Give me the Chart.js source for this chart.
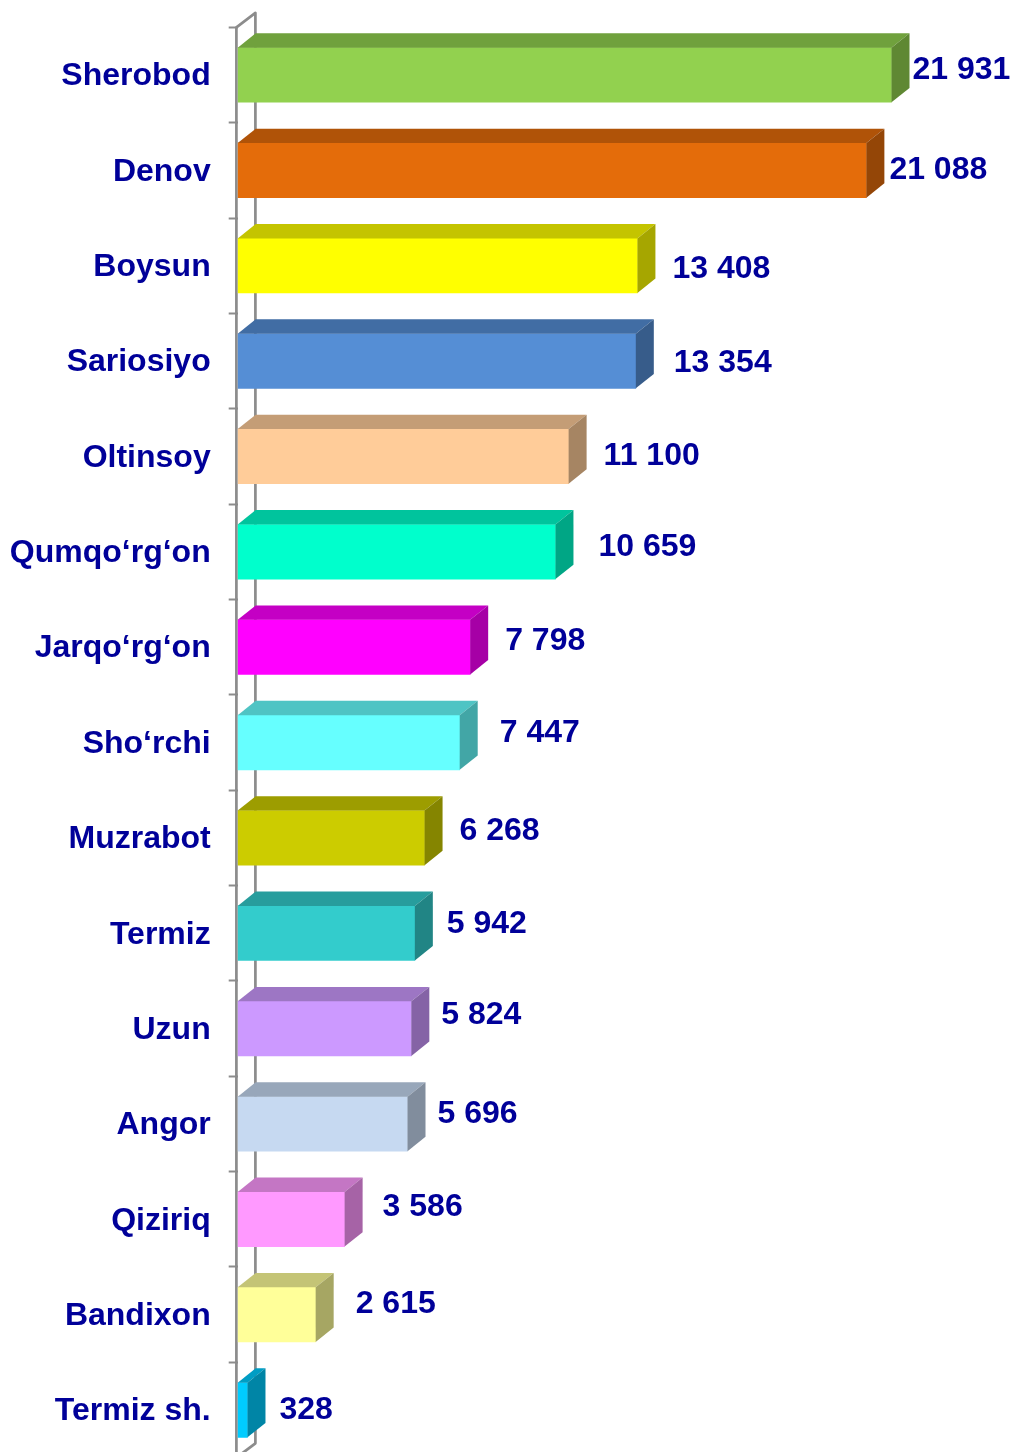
<!DOCTYPE html>
<html lang="uz">
  <head>
    <meta charset="utf-8" />
    <title>Tumanlar</title>
    <script src="https://cdn.jsdelivr.net/npm/chart.js"></script>
    <style>
      html,
      body {
        margin: 0;
        padding: 0;
        background: #fff;
        height: 1452px;
        overflow: hidden;
      }
      canvas {
        display: block;
      }
    </style>
  </head>
  <body>
    <canvas id="chart" width="1010" height="1480"></canvas>
    <script>
      const categories = [
        "Sherobod", "Denov", "Boysun", "Sariosiyo", "Oltinsoy",
        "Qumqo\u2018rg\u2018on", "Jarqo\u2018rg\u2018on", "Sho\u2018rchi", "Muzrabot", "Termiz",
        "Uzun", "Angor", "Qiziriq", "Bandixon", "Termiz sh.",
      ];
      const values = [
        21931, 21088, 13408, 13354, 11100, 10659, 7798, 7447, 6268, 5942, 5824,
        5696, 3586, 2615, 328,
      ];
      const barColors = [
        "#92D14F", "#E46C0A", "#FFFF00", "#558ED5", "#FFCC99",
        "#00FFCC", "#FF00FF", "#66FFFF", "#CCCC00", "#33CCCC",
        "#CC99FF", "#C6D9F1", "#FF99FF", "#FFFF99", "#00CCFF",
      ];
      // value labels were hand-placed in the original, so each has its own nudge
      const labelGapX = [21, 23, 35, 38, 35, 43, 35, 40, 35, 32, 30, 30, 38, 40, 32];
      const labelGapY = [-5, 0, 3, 2, 0, -5, -6, -9, -7, -9, -13, -10, -12, -10, 0];

      const depthX = 18;
      const depthY = 14.4;
      const axisColor = "#8C8C8C";
      const textColor = "#000099";
      const font = { family: "'Liberation Sans', Arial, sans-serif", size: 32, weight: "bold" };

      function shade(hex, k) {
        const n = parseInt(hex.slice(1), 16);
        const c = [n >> 16, (n >> 8) & 255, n & 255].map((v) => Math.round(v * k));
        return "rgb(" + c.join(",") + ")";
      }

      function fmt(v) {
        return String(v).replace(/\B(?=(\d{3})+$)/g, " ");
      }

      // 3D frame: front axis line and back wall
      const wallPlugin = {
        id: "wall",
        beforeDatasetsDraw(chart) {
          const { ctx, chartArea: a } = chart;
          const x = a.left - 1.3;
          ctx.save();
          ctx.strokeStyle = axisColor;
          ctx.lineWidth = 2.7;
          ctx.lineJoin = "round";
          ctx.beginPath();
          ctx.moveTo(x, a.bottom);
          ctx.lineTo(x, a.top);
          ctx.lineTo(x + depthX + 1, a.top - depthY);
          ctx.lineTo(x + depthX + 1, a.bottom - depthY);
          ctx.lineTo(x, a.bottom);
          ctx.stroke();
          ctx.restore();
        },
      };

      // top and side faces of each bar, plus the value labels
      const facesPlugin = {
        id: "faces",
        afterDatasetsDraw(chart) {
          const { ctx } = chart;
          chart.getDatasetMeta(0).data.forEach((bar, i) => {
            const x0 = bar.base;
            const x1 = bar.x;
            const top = bar.y - bar.height / 2;
            const bottom = bar.y + bar.height / 2;
            ctx.fillStyle = shade(barColors[i], 0.77);
            ctx.beginPath();
            ctx.moveTo(x0, top);
            ctx.lineTo(x0 + depthX, top - depthY);
            ctx.lineTo(x1 + depthX, top - depthY);
            ctx.lineTo(x1, top);
            ctx.closePath();
            ctx.fill();
            ctx.fillStyle = shade(barColors[i], 0.65);
            ctx.beginPath();
            ctx.moveTo(x1, top);
            ctx.lineTo(x1 + depthX, top - depthY);
            ctx.lineTo(x1 + depthX, bottom - depthY);
            ctx.lineTo(x1, bottom);
            ctx.closePath();
            ctx.fill();

            ctx.fillStyle = textColor;
            ctx.font = font.weight + " " + font.size + "px " + font.family;
            ctx.textAlign = "left";
            ctx.textBaseline = "middle";
            ctx.fillText(fmt(values[i]), x1 + labelGapX[i], bar.y + labelGapY[i]);
          });
        },
      };

      new Chart(document.getElementById("chart"), {
        type: "bar",
        data: {
          labels: categories,
          datasets: [
            {
              data: values,
              backgroundColor: barColors,
              borderWidth: 0,
              barThickness: 54.6,
            },
          ],
        },
        options: {
          indexAxis: "y",
          responsive: false,
          animation: false,
          devicePixelRatio: 1,
          layout: { padding: { top: 27.3, bottom: 22.3, right: 27 } },
          plugins: { legend: { display: false }, tooltip: { enabled: false } },
          scales: {
            x: { display: false, min: 0, max: 25000 },
            y: {
              afterFit(scale) {
                scale.width = 237.7;
                scale.paddingTop = 0;
                scale.paddingBottom = 0;
              },
              grid: {
                offset: true,
                drawOnChartArea: false,
                tickLength: 9,
                tickColor: axisColor,
                tickWidth: 2,
              },
              border: { display: false },
              ticks: { color: textColor, font: font, padding: 18, autoSkip: false, labelOffset: 1.5 },
            },
          },
        },
        plugins: [wallPlugin, facesPlugin],
      });
    </script>
  </body>
</html>
